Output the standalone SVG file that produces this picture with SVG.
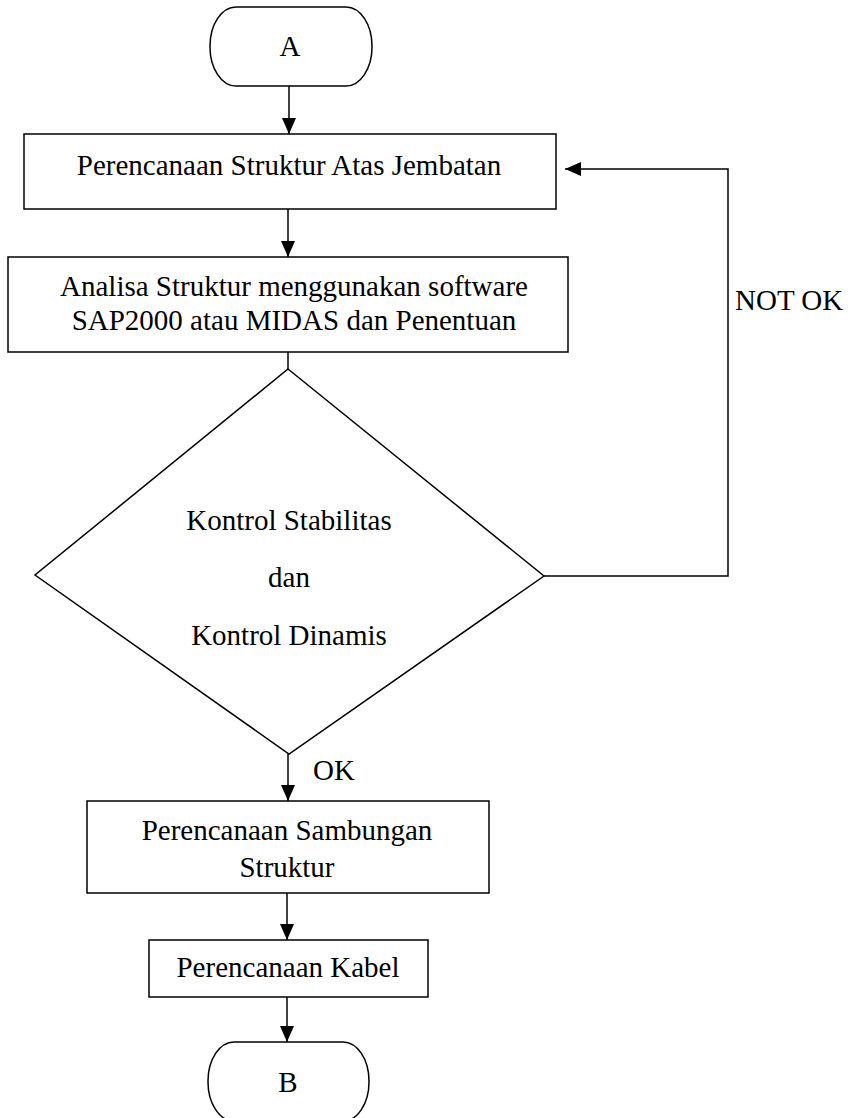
<svg xmlns="http://www.w3.org/2000/svg" width="860" height="1118" viewBox="0 0 860 1118">
<defs>
<style>
.s{fill:#fff;stroke:#000;stroke-width:1.5}
.c{fill:none;stroke:#000;stroke-width:1.5}
.t{font-family:"Liberation Serif","Times New Roman",serif;font-size:29px;fill:#000;text-anchor:middle}
.l{font-family:"Liberation Serif","Times New Roman",serif;font-size:29px;fill:#000}
</style>
<marker id="ah" markerUnits="userSpaceOnUse" markerWidth="16" markerHeight="16" viewBox="0 0 16 14" refX="16" refY="7" orient="auto">
<path d="M0,0 L16,7 L0,14 Z" fill="#000"/>
</marker>
</defs>
<rect width="860" height="1118" fill="#fff"/>
<g id="connectors">
<line class="c" x1="289" y1="86" x2="289" y2="134" marker-end="url(#ah)"/>
<line class="c" x1="288" y1="209" x2="288" y2="257" marker-end="url(#ah)"/>
<line class="c" x1="288" y1="352" x2="288" y2="369"/>
<line class="c" x1="288" y1="754" x2="288" y2="801" marker-end="url(#ah)"/>
<line class="c" x1="287" y1="893" x2="287" y2="940" marker-end="url(#ah)"/>
<line class="c" x1="287" y1="997" x2="287" y2="1042" marker-end="url(#ah)"/>
<polyline class="c" points="544,576 728,576 728,169 565,169" marker-end="url(#ah)"/>
<text class="l" x="735" y="310">NOT OK</text>
<text class="l" x="313" y="780">OK</text>
</g>
<g id="start">
<rect class="s" x="210" y="7" width="162" height="79" rx="26" ry="39"/>
<text class="t" x="290" y="56">A</text>
</g>
<g id="box1">
<rect class="s" x="24" y="134" width="532" height="75"/>
<text class="t" x="289" y="175">Perencanaan Struktur Atas Jembatan</text>
</g>
<g id="box2">
<rect class="s" x="8" y="257" width="560" height="95"/>
<text class="t" x="294" y="296">Analisa Struktur menggunakan software</text>
<text class="t" x="294" y="330">SAP2000 atau MIDAS dan Penentuan</text>
</g>
<g id="decision">
<polygon class="s" points="288,369 544,576 289,754 35,575"/>
<text class="t" x="289" y="530">Kontrol Stabilitas</text>
<text class="t" x="289" y="587">dan</text>
<text class="t" x="289" y="645">Kontrol Dinamis</text>
</g>
<g id="box3">
<rect class="s" x="87" y="801" width="402" height="92"/>
<text class="t" x="287" y="840">Perencanaan Sambungan</text>
<text class="t" x="287" y="877">Struktur</text>
</g>
<g id="box4">
<rect class="s" x="149" y="940" width="279" height="57"/>
<text class="t" x="288" y="977">Perencanaan Kabel</text>
</g>
<g id="end">
<rect class="s" x="208" y="1042" width="161" height="79" rx="26" ry="39"/>
<text class="t" x="288" y="1092">B</text>
</g>
</svg>
